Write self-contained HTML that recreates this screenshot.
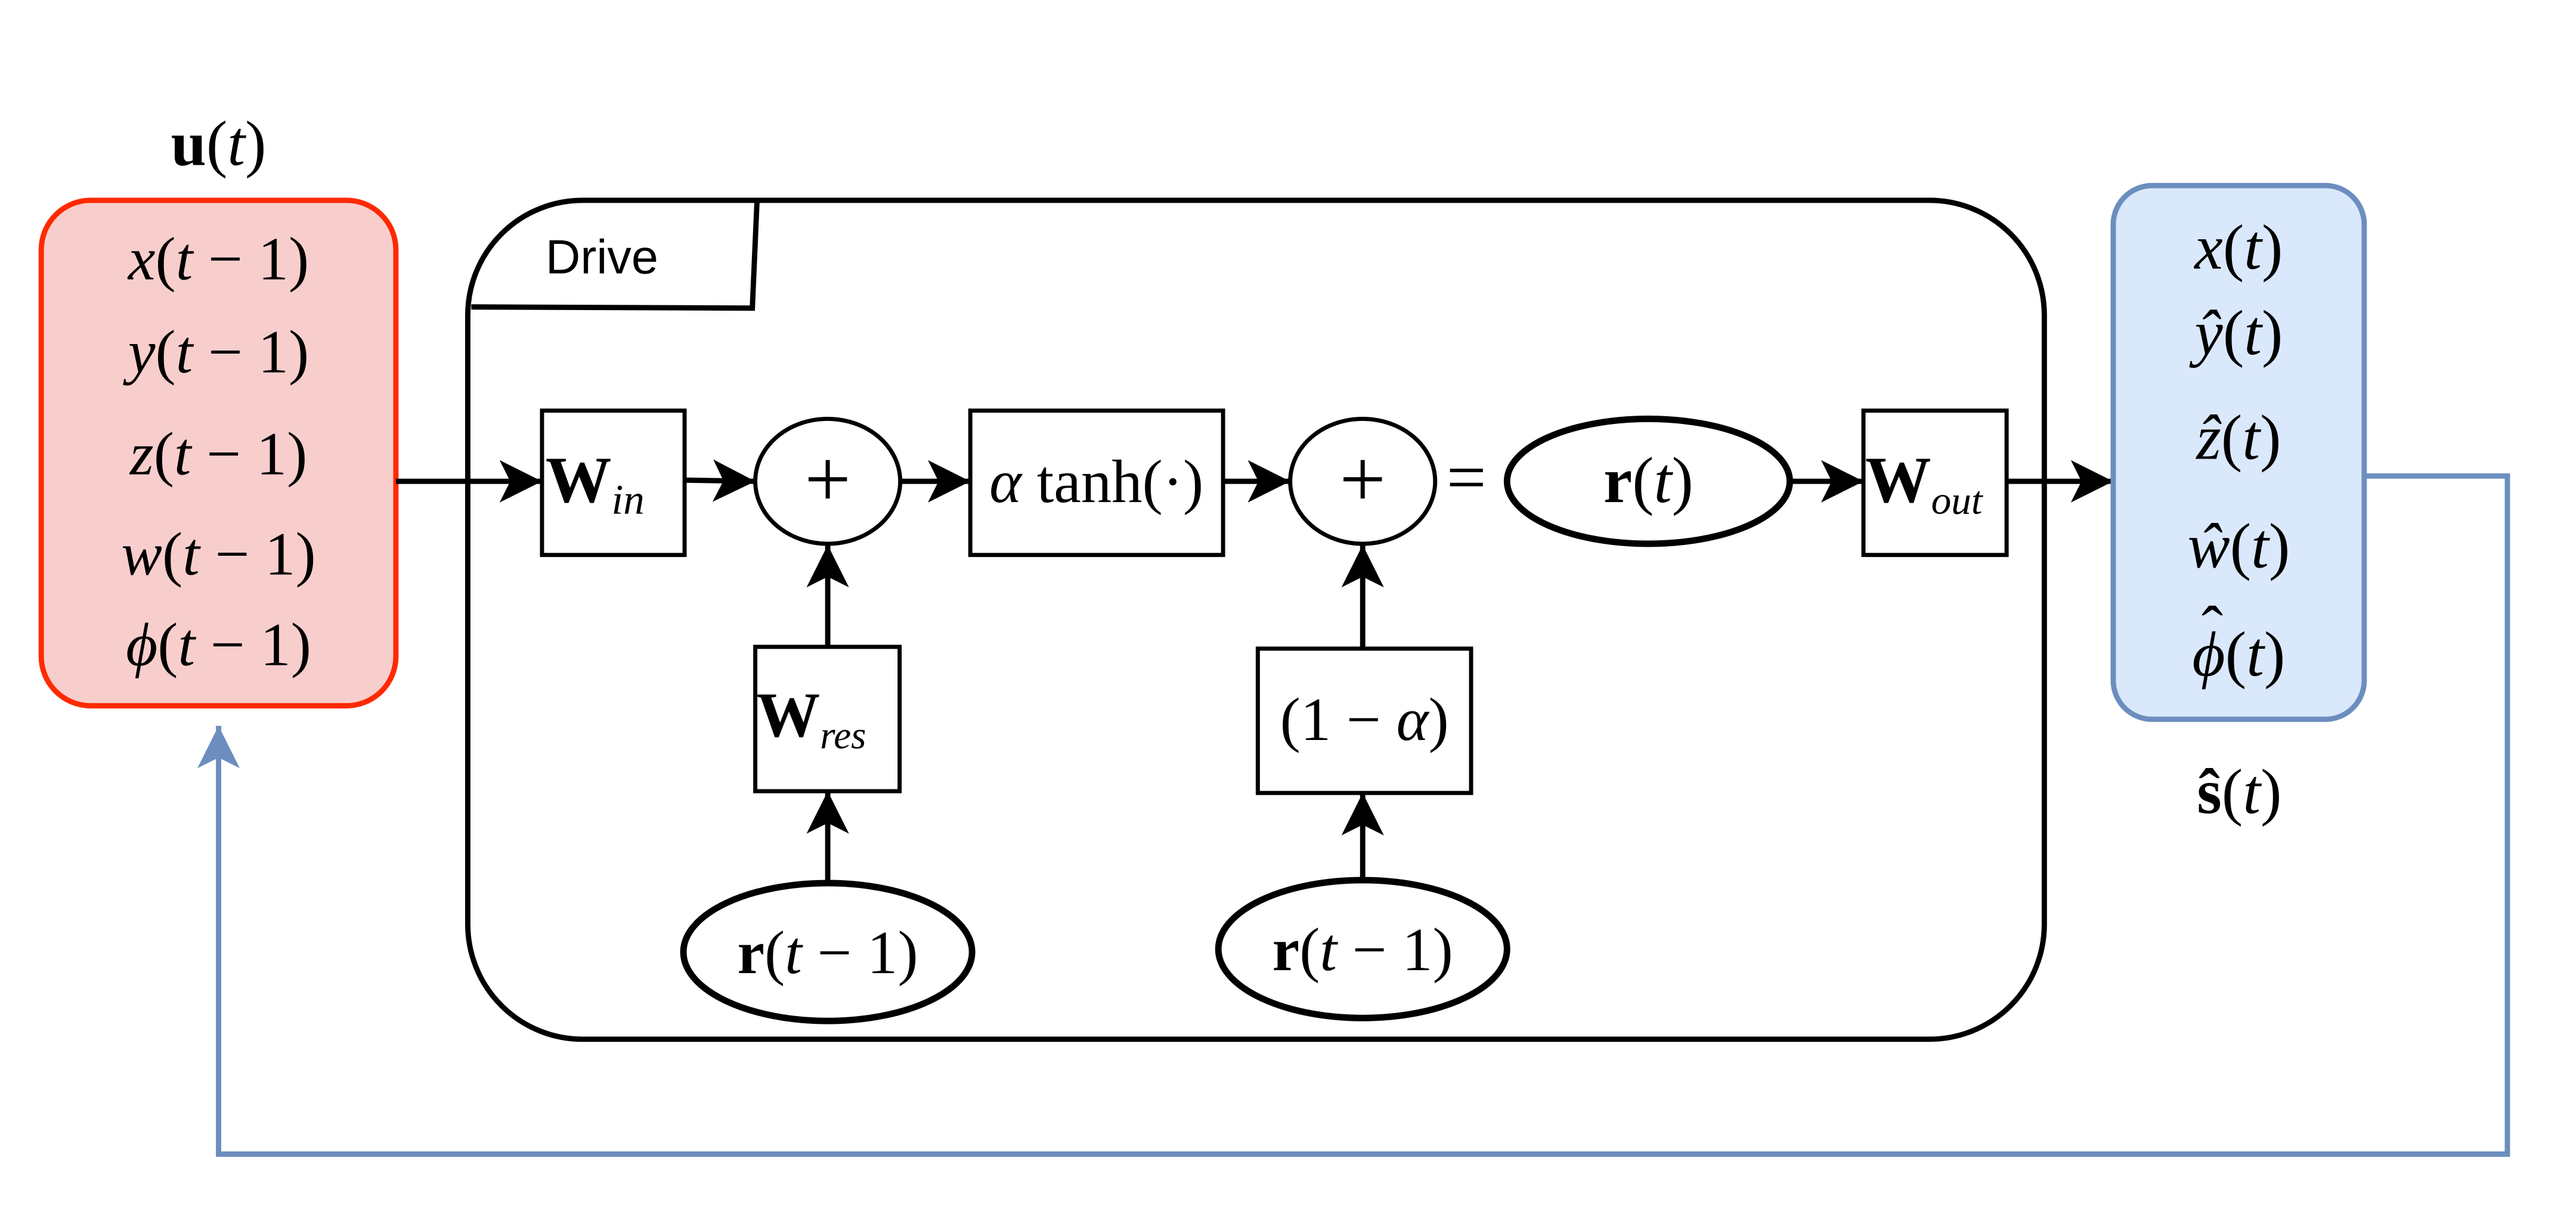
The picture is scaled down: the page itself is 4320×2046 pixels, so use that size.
<!DOCTYPE html>
<html><head><meta charset="utf-8"><style>
html,body{margin:0;padding:0;background:#fff;}
svg{display:block;}
.m{font-family:"Liberation Serif",serif;font-style:italic;}
.r{font-family:"Liberation Serif",serif;font-style:normal;}
.b{font-family:"Liberation Serif",serif;font-weight:bold;font-style:normal;}
</style></head><body>
<svg width="4320" height="2046" viewBox="0 0 4320 2046" xmlns="http://www.w3.org/2000/svg">
<defs>
<marker id="ah" viewBox="0 0 20 20" refX="20" refY="10" markerWidth="8" markerHeight="8" markerUnits="strokeWidth" orient="auto">
<path d="M0,0 L20,10 L0,20 L5,10 Z" fill="#000"/>
</marker>
<marker id="ahb" viewBox="0 0 20 20" refX="20" refY="10" markerWidth="8" markerHeight="8" markerUnits="strokeWidth" orient="auto">
<path d="M0,0 L20,10 L0,20 L5,10 Z" fill="#6c8ebf"/>
</marker>
</defs>
<g transform="scale(0.988)">
<polyline points="4013,808 4256,808 4256,1959 371,1959 371,1232" fill="none" stroke="#6c8ebf" stroke-width="9" marker-end="url(#ahb)"/>

<text x="371" y="280" text-anchor="middle" font-size="108"><tspan class="b">u</tspan><tspan class="r">(</tspan><tspan class="m">t</tspan><tspan class="r">)</tspan></text>

<rect x="70" y="340" width="602" height="858" rx="84" fill="#f8cecc" stroke="#ff2a00" stroke-width="9"/>
<g font-size="104" text-anchor="middle">
<text x="371" y="474"><tspan class="m">x</tspan><tspan class="r">(</tspan><tspan class="m">t</tspan><tspan class="r"> − 1)</tspan></text>
<text x="371" y="632"><tspan class="m">y</tspan><tspan class="r">(</tspan><tspan class="m">t</tspan><tspan class="r"> − 1)</tspan></text>
<text x="371" y="805"><tspan class="m">z</tspan><tspan class="r">(</tspan><tspan class="m">t</tspan><tspan class="r"> − 1)</tspan></text>
<text x="371" y="975"><tspan class="m">w</tspan><tspan class="r">(</tspan><tspan class="m">t</tspan><tspan class="r"> − 1)</tspan></text>
<text x="371" y="1129"><tspan class="m">ϕ</tspan><tspan class="r">(</tspan><tspan class="m">t</tspan><tspan class="r"> − 1)</tspan></text>
</g>

<rect x="794" y="340" width="2676" height="1424" rx="195" fill="none" stroke="#000" stroke-width="9"/>
<path d="M800,521 L1277,523 L1285,340" fill="none" stroke="#000" stroke-width="9"/>
<text x="926" y="464" font-family="Liberation Sans,sans-serif" font-size="82">Drive</text>

<g stroke="#000" stroke-width="9" fill="none">
<line x1="672" y1="817" x2="920" y2="817" marker-end="url(#ah)"/>
<line x1="1162" y1="815" x2="1282" y2="817" marker-end="url(#ah)"/>
<line x1="1528" y1="817" x2="1647" y2="817" marker-end="url(#ah)"/>
<line x1="2076" y1="817" x2="2190" y2="817" marker-end="url(#ah)"/>
<line x1="3038" y1="817" x2="3163" y2="817" marker-end="url(#ah)"/>
<line x1="3406" y1="817" x2="3587" y2="817" marker-end="url(#ah)"/>
<line x1="1405" y1="1098" x2="1405" y2="925" marker-end="url(#ah)"/>
<line x1="1405" y1="1499" x2="1405" y2="1343" marker-end="url(#ah)"/>
<line x1="2313" y1="1101" x2="2313" y2="925" marker-end="url(#ah)"/>
<line x1="2313" y1="1494" x2="2313" y2="1346" marker-end="url(#ah)"/>
</g>

<g fill="#fff" stroke="#000" stroke-width="7">
<rect x="920" y="697" width="242" height="245"/>
<rect x="1647" y="697" width="429" height="245"/>
<rect x="3163" y="697" width="243" height="245"/>
<rect x="1282" y="1098" width="245" height="245"/>
<rect x="2135" y="1101" width="362" height="245"/>
<ellipse cx="1405" cy="817" rx="123" ry="106"/>
<ellipse cx="2313" cy="817" rx="123" ry="106"/>
</g>
<g fill="#fff" stroke="#000" stroke-width="11">
<ellipse cx="2798" cy="817" rx="240" ry="106"/>
<ellipse cx="1405" cy="1616" rx="245" ry="117"/>
<ellipse cx="2313" cy="1611" rx="245" ry="117"/>
</g>

<text x="926" y="852" font-size="112"><tspan class="b">W</tspan><tspan class="m" font-size="72" dy="20">in</tspan></text>
<text x="1405" y="860" font-size="140" class="r" text-anchor="middle">+</text>
<text x="1861" y="852" font-size="104" text-anchor="middle"><tspan class="m">α</tspan><tspan class="r"> tanh(·)</tspan></text>
<text x="2313" y="860" font-size="140" class="r" text-anchor="middle">+</text>
<text x="2489" y="850" font-size="120" class="r" text-anchor="middle">=</text>
<text x="2798" y="852" font-size="110" text-anchor="middle"><tspan class="b">r</tspan><tspan class="r">(</tspan><tspan class="m">t</tspan><tspan class="r">)</tspan></text>
<text x="3166" y="852" font-size="112"><tspan class="b">W</tspan><tspan class="m" font-size="68" dy="20">out</tspan></text>
<text x="1284" y="1250" font-size="108"><tspan class="b">W</tspan><tspan class="m" font-size="66" dy="20">res</tspan></text>
<text x="2316" y="1256" font-size="104" text-anchor="middle"><tspan class="r">(1 − </tspan><tspan class="m">α</tspan><tspan class="r">)</tspan></text>
<text x="1405" y="1652" font-size="104" text-anchor="middle"><tspan class="b">r</tspan><tspan class="r">(</tspan><tspan class="m">t</tspan><tspan class="r"> − 1)</tspan></text>
<text x="2313" y="1647" font-size="104" text-anchor="middle"><tspan class="b">r</tspan><tspan class="r">(</tspan><tspan class="m">t</tspan><tspan class="r"> − 1)</tspan></text>

<rect x="3587" y="315" width="426" height="906" rx="66" fill="#dae8fc" stroke="#6c8ebf" stroke-width="9"/>
<g font-size="108" text-anchor="middle">
<text x="3800" y="456"><tspan class="m">x</tspan><tspan class="r">(</tspan><tspan class="m">t</tspan><tspan class="r">)</tspan></text>
<text x="3800" y="601"><tspan class="m">ŷ</tspan><tspan class="r">(</tspan><tspan class="m">t</tspan><tspan class="r">)</tspan></text>
<text x="3800" y="779"><tspan class="m">ẑ</tspan><tspan class="r">(</tspan><tspan class="m">t</tspan><tspan class="r">)</tspan></text>
<text x="3800" y="963"><tspan class="m">ŵ</tspan><tspan class="r">(</tspan><tspan class="m">t</tspan><tspan class="r">)</tspan></text>
<text x="3800" y="1147"><tspan class="m">ϕ</tspan><tspan class="r">(</tspan><tspan class="m">t</tspan><tspan class="r">)</tspan></text>
</g>
<text x="3755" y="1105" class="r" font-size="110" text-anchor="middle">ˆ</text>
<text x="3801" y="1380" font-size="108" text-anchor="middle"><tspan class="b">ŝ</tspan><tspan class="r">(</tspan><tspan class="m">t</tspan><tspan class="r">)</tspan></text>
</g>
</svg>
</body></html>
